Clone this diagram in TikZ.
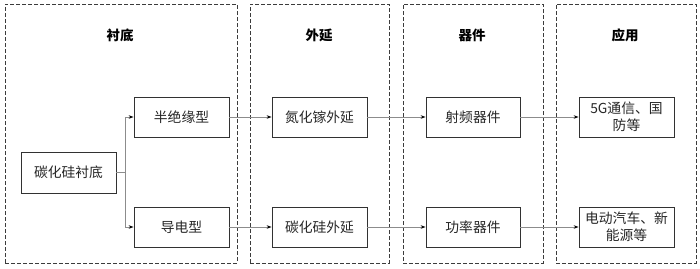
\documentclass[tikz,border=0pt]{standalone}
\usepackage{fontspec}
\setmainfont{Noto Sans CJK SC}
\usetikzlibrary{arrows.meta}
\definecolor{frame}{RGB}{60,60,60}
\definecolor{boxline}{RGB}{50,50,50}
\definecolor{conn}{RGB}{140,140,140}
\tikzset{
  group/.style={draw=frame, line width=0.9pt, dash pattern=on 4pt off 2pt, rectangle, minimum height=259pt, inner sep=0pt},
  title/.style={font=\fontsize{13.5}{15}\selectfont\bfseries, text=black},
  stepbox/.style={draw=boxline, line width=0.8pt, rectangle, minimum width=95pt, minimum height=40pt, inner sep=1pt, align=center, font=\fontsize{13.8}{17}\selectfont, text=black!85},
  link/.style={draw=conn, line width=0.8pt, -{Stealth[length=5pt,width=3.5pt,black]}}
}
\begin{document}
\begin{tikzpicture}[x=1pt,y=-1pt]
\useasboundingbox (0,0) rectangle (700,268);
\node[group, minimum width=232pt] (g1) at (121,133.5) {};
\node[group, minimum width=139pt] (g2) at (319.5,133.5) {};
\node[group, minimum width=140pt] (g3) at (473,133.5) {};
\node[group, minimum width=140pt] (g4) at (626,133.5) {};
\node[title] (t1) at (120,35) {衬底};
\node[title] (t2) at (319,35) {外延};
\node[title] (t3) at (472,35) {器件};
\node[title] (t4) at (625,35) {应用};
\node[stepbox, minimum height=41pt] (sub) at (68.5,172.5) {碳化硅衬底};
\node[stepbox] (semi) at (181.5,117) {半绝缘型};
\node[stepbox] (cond) at (181.5,227) {导电型};
\node[stepbox] (gan) at (319.5,117) {氮化镓外延};
\node[stepbox] (sic) at (319.5,227) {碳化硅外延};
\node[stepbox, minimum width=94pt] (rf) at (473,117) {射频器件};
\node[stepbox, minimum width=94pt] (pw) at (473,227) {功率器件};
\node[stepbox] (app1) at (626.5,117) {5G通信、国\\防等};
\node[stepbox] (app2) at (626.5,227) {电动汽车、新\\能源等};
\coordinate (j) at (125,172.5);
\draw[link] (sub.east) -- (j) |- (semi.west);
\draw[link] (sub.east) -- (j) |- (cond.west);
\draw[link] (semi.east) -- (gan.west);
\draw[link] (cond.east) -- (sic.west);
\draw[link] (gan.east) -- (rf.west);
\draw[link] (sic.east) -- (pw.west);
\draw[link] (rf.east) -- (app1.west);
\draw[link] (pw.east) -- (app2.west);
\end{tikzpicture}
\end{document}
